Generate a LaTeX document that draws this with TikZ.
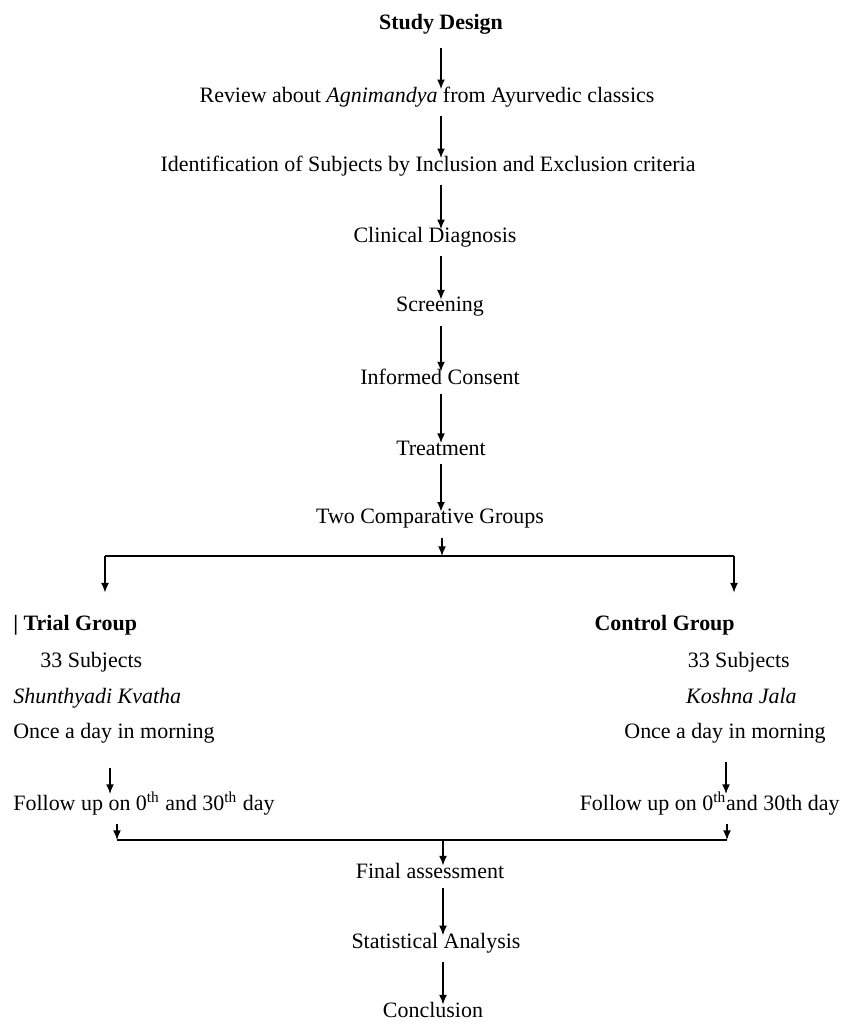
\documentclass[tikz,border=0pt]{standalone}
\usepackage{fontspec}
\setmainfont{Liberation Serif}
\usetikzlibrary{arrows.meta}

\begin{document}
\begin{tikzpicture}[x=0.02cm, y=-0.02cm,
	every node/.style={inner sep=0pt, font=\fontsize{12.5pt}{15pt}\selectfont},
	bf/.style={font=\fontsize{12.5pt}{15pt}\selectfont\bfseries},
	flow/.style={line width=0.8pt, arrows={-{Latex[length=5.5pt,width=4.5pt]}}, shorten <=5pt, shorten >=-1.5pt},
	link/.style={line width=0.8pt}]
	\useasboundingbox (0,0) rectangle (842,1026);
	\coordinate (spine) at (441,0);

	% main column
	\node [bf] (design) at (441,24) {Study Design};
	\node (review) at (427,97) {Review about \textit{Agnimandya} from Ayurvedic classics};
	\node (ident) at (428,166) {Identification of Subjects by Inclusion and Exclusion criteria};
	\node (diag) at (435,237) {Clinical Diagnosis};
	\node (screen) at (440,307) {Screening};
	\node (consent) at (440,377) {Informed Consent};
	\node (treat) at (441,448) {Treatment};
	\node (groups) at (430,519) {Two Comparative Groups};

	\draw [flow, shorten <=8pt] (design.south -| spine) -- (review.north -| spine);
	\draw [flow] (review.south -| spine) -- (ident.north -| spine);
	\draw [flow] (ident.south -| spine) -- (diag.north -| spine);
	\draw [flow] (diag.south -| spine) -- (screen.north -| spine);
	\draw [flow] (screen.south -| spine) -- (consent.north -| spine);
	\draw [flow] (consent.south -| spine) -- (treat.north -| spine);
	\draw [flow] (treat.south -| spine) -- (groups.north -| spine);

	% split into the two groups
	\coordinate (split) at (442,556);
	\coordinate (lsplit) at (105,556);
	\coordinate (rsplit) at (734,556);
	\coordinate (ltip) at (105,590);
	\coordinate (rtip) at (734,590);
	\draw [flow, shorten >=0pt] (groups.south -| split) -- (split);
	\draw [link] (lsplit) -- (rsplit);
	\draw [flow, shorten <=0pt] (lsplit) -- (ltip);
	\draw [flow, shorten <=0pt] (rsplit) -- (rtip);

	% trial group
	\node [bf, anchor=base west] (trial) at (13,630) {| Trial Group};
	\node [anchor=base west] (lsubj) at (40,667) {33 Subjects};
	\node [anchor=base west] (ldrug) at (13,703) {\textit{Shunthyadi Kvatha}};
	\node [anchor=base west] (ldose) at (13,738) {Once a day in morning};
	\node [anchor=base west] (lfollow) at (13,810) {Follow up on 0\textsuperscript{th} and 30\textsuperscript{th} day};
	\coordinate (larrow) at (110,0);
	\draw [flow, shorten <=14pt] (ldose.south -| larrow) -- (lfollow.north -| larrow);

	% control group
	\node [bf, anchor=base east] (control) at (735,630) {Control Group};
	\node [anchor=base east] (rsubj) at (790,667) {33 Subjects};
	\node [anchor=base east] (rdrug) at (797,703) {\textit{Koshna Jala}};
	\node [anchor=base east] (rdose) at (826,738) {Once a day in morning};
	\node [anchor=base east] (rfollow) at (840,810) {Follow up on 0\textsuperscript{th}and 30th day};
	\coordinate (rarrow) at (726,0);
	\draw [flow, shorten <=11pt] (rdose.south -| rarrow) -- (rfollow.north -| rarrow);

	% join again
	\coordinate (ljoin) at (117,840);
	\coordinate (rjoin) at (727,840);
	\coordinate (join) at (443,840);
	\draw [flow, shorten >=0pt] (lfollow.south -| ljoin) -- (ljoin);
	\draw [flow, shorten >=0pt] (rfollow.south -| rjoin) -- (rjoin);
	\draw [link] (ljoin) -- (rjoin);

	\node (final) at (430,871) {Final assessment};
	\node (stat) at (436,943) {Statistical Analysis};
	\node (concl) at (433,1010) {Conclusion};

	\draw [flow, shorten <=0pt] (join) -- (final.north -| join);
	\draw [flow] (final.south -| join) -- (stat.north -| join);
	\draw [flow] (stat.south -| join) -- (concl.north -| join);
\end{tikzpicture}
\end{document}
